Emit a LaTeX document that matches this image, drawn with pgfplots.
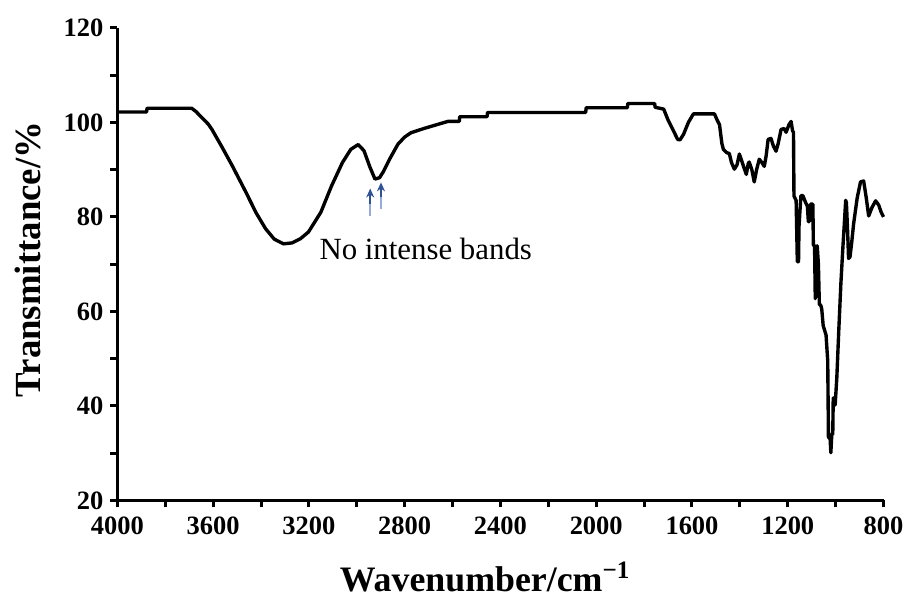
\documentclass[border=0pt]{standalone}
\usepackage{pgfplots}
\pgfplotsset{compat=1.18}
\usepackage{fontspec}
\setmainfont{Liberation Serif}
\usetikzlibrary{arrows.meta}
\definecolor{arrdark}{RGB}{47,82,150}
\definecolor{arrlight}{RGB}{150,172,214}
\begin{document}
\begin{tikzpicture}
\begin{axis}[
  scale only axis,
  width=385pt, height=237.5pt,
  xmin=800, xmax=4000, ymin=20, ymax=120,
  x dir=reverse,
  axis x line*=bottom, axis y line*=left,
  axis line style={line width=1.5pt,-},
  xtick={800,1200,...,4000},
  ytick={20,40,...,120},
  minor x tick num=1, minor y tick num=1,
  tick align=outside,
  major tick length=3.5pt, minor tick length=3.5pt,
  every tick/.style={line width=1.5pt,black},
  /pgf/number format/assume math mode=true,
  /pgf/number format/1000 sep={},
  xticklabel style={font=\bfseries\fontsize{13.3}{15}\selectfont, yshift=-1pt},
  yticklabel style={font=\bfseries\fontsize{13.3}{15}\selectfont},
  xlabel={Wavenumber/cm\textsuperscript{−1}},
  ylabel={Transmittance/\%},
  xlabel style={font=\bfseries\fontsize{18}{20}\selectfont, at={(axis description cs:0.48,0)}, anchor=center, yshift=-38.5pt},
  ylabel style={font=\bfseries\fontsize{18.5}{20}\selectfont, at={(axis description cs:0,0.51)}, anchor=center, yshift=45pt},
  clip=false,
]
\addplot[black, line width=1.7pt, line join=round] coordinates {
(4000,102.2) (3878,102.2) (3876,103.0) (3690,103.0) (3672,102.3) (3647,101.0)
(3620,99.6) (3605,98.5) (3560,94.5) (3520,90.8) (3464,85.3) (3420,80.8)
(3381,77.5) (3345,75.3) (3306,74.3) (3270,74.5) (3235,75.4) (3202,76.8)
(3150,81.0) (3106,86.5) (3060,91.5) (3025,94.3) (2994,95.3) (2970,94.0)
(2945,90.5) (2924,88.0) (2905,88.3) (2890,89.5) (2860,92.5) (2828,95.4)
(2800,96.9) (2774,97.8) (2720,98.7) (2660,99.6) (2620,100.2) (2572,100.2)
(2570,101.2) (2456,101.2) (2454,102.1) (2044,102.1) (2042,103.1) (1870,103.1)
(1868,104.0) (1756,104.0) (1754,103.2) (1718,102.8) (1700,100.5) (1680,98.5)
(1660,96.4) (1650,96.3) (1635,97.5) (1615,100) (1594,101.8) (1506,101.8)
(1495,100.5) (1485,99.5) (1475,95.5) (1469,94.3) (1455,93.6) (1444,93.4)
(1435,91.5) (1423,90.1) (1412,91) (1402,93.3) (1390,91.5) (1380,90)
(1373,89) (1365,91.3) (1361,91.6) (1350,90) (1340,87.4) (1330,90)
(1319,92.2) (1308,91.5) (1298,90.7) (1290,93) (1282,96.4) (1270,96.6)
(1260,95) (1249,93.9) (1240,95.5) (1228,98.5) (1215,98.7) (1207,97.9)
(1195,99.5) (1186,100.2) (1180,98.2) (1176,97.9) (1174,84.4) (1165,83.5)
(1160,70.5) (1155,70.5) (1153,78) (1145,84.5) (1137,84.5) (1125,83)
(1118,82.3) (1114,79) (1110,79) (1105,82.7) (1095,82.7) (1093,74)
(1088,73.9) (1085,62.7) (1080,72) (1077,73.9) (1072,70) (1068,61.5)
(1062,61.3) (1058,60.5) (1052,57) (1040,55) (1033,49.5) (1030,33.3)
(1024,34) (1020,30.1) (1016,34) (1012,34) (1010,41.7) (1002,40.2)
(995,46) (987,55.8) (978,66) (970,73.3) (962,80) (958,83.5)
(955,83) (950,77) (946,71.2) (940,71.5) (933,74.5) (925,78.5)
(910,84) (896,87.4) (883,87.6) (872,84) (862,80.2) (848,82)
(833,83.4) (820,82.5) (810,81) (800,80)
};
\draw[arrlight, line width=1pt] (axis cs:2944,80.2) -- (axis cs:2944,83.0);
\draw[arrdark, line width=1pt, -{Stealth[length=4.5pt,width=4pt]}] (axis cs:2944,82.8) -- (axis cs:2944,86.0);
\draw[arrlight, line width=1pt] (axis cs:2899,81.7) -- (axis cs:2899,84.4);
\draw[arrdark, line width=1pt, -{Stealth[length=4.5pt,width=4pt]}] (axis cs:2899,84.2) -- (axis cs:2899,87.3);
\node[font=\fontsize{15.5}{17}\selectfont, anchor=center] at (axis cs:2712,73.3) {No intense bands};
\path (axis description cs:0,0) ++(-59pt,-49pt) rectangle ++(455pt,300.5pt);
\end{axis}
\end{tikzpicture}
\end{document}
